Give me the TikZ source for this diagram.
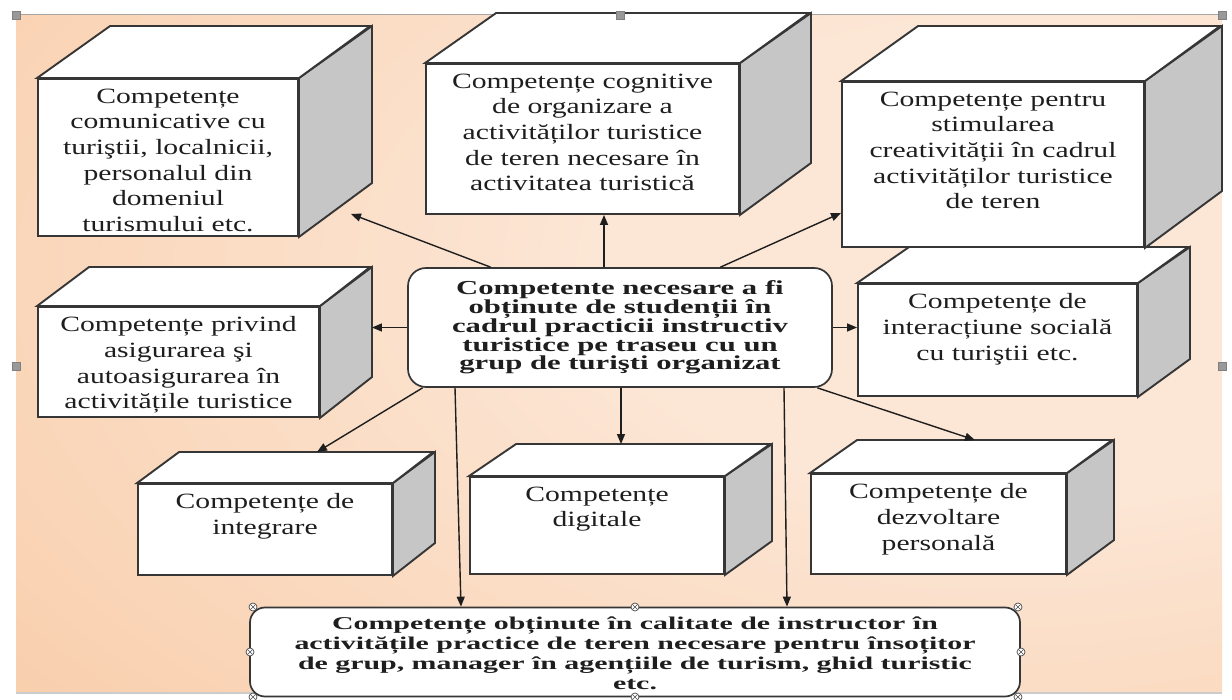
\documentclass[tikz,border=0pt]{standalone}
\usepackage{fontspec}
\setmainfont{Liberation Serif}
\newfontfamily\boxf{Liberation Serif}[FakeStretch=1.36]
\newfontfamily\bldf{Liberation Serif}[FakeStretch=1.55]
\newfontfamily\bldg{Liberation Serif}[FakeStretch=1.66]
\usetikzlibrary{arrows.meta,calc}
\definecolor{txt}{HTML}{1E1E1E}
\definecolor{edgec}{HTML}{363636}
\definecolor{sidec}{HTML}{C6C6C6}
\definecolor{bgA}{HTML}{FCE6D5}
\definecolor{bgB}{HTML}{F9CFAD}
\definecolor{bgC}{HTML}{F2A66C}
\pgfdeclareradialshading{bgrad}{\pgfpoint{20bp}{8bp}}{color(0bp)=(bgA); color(18bp)=(bgA); color(48bp)=(bgB); color(78bp)=(bgC); color(120bp)=(bgC)}
\newcommand{\cube}[8]{%
  \node[front, minimum width=#4pt, minimum height=#5pt] (#1) at (#2,#3) {};
  \draw[face, fill=sidec] (#1.north east) -- ++(#6,-#7) -- ++(0,#5) -- (#1.south east) -- cycle;
  \draw[face, fill=white] (#1.north west) -- ++(#6,-#7) -- ++(#4,0) -- (#1.north east) -- cycle;
  \node[boxtext, anchor=north] (#1t) at ($(#1.north)+(0,10.5)$) {#8};
}
\begin{document}
\begin{tikzpicture}[x=1pt, y=-1pt,
  front/.style={draw=edgec, line width=1.9pt, fill=white, inner sep=0pt, rectangle},
  face/.style={draw=edgec, line width=1.9pt, line join=miter},
  boxtext/.style={font=\boxf\fontsize{21.8}{25.7}\selectfont, align=center, inner sep=0pt, text=txt},
  rbox/.style={draw=edgec, line width=1.7pt, fill=white, rounded corners=18pt, inner sep=0pt},
  ctext/.style={font=\bldf\bfseries\fontsize{19.8}{18.4}\selectfont, align=center, text=txt},
  btext/.style={font=\bldg\bfseries\fontsize{18}{20}\selectfont, align=center, text=txt},
  arr/.style={draw=txt, line width=1.4pt, -{Triangle[length=10pt,width=8pt]}},
  handle/.style={fill=gray!80, draw=gray, line width=0.6pt}
]
\useasboundingbox (0,0) rectangle (1232,700);
\fill[white] (0,0) rectangle (1232,700);
\shade[shading=bgrad] (16,15) rectangle (1222,692);
\draw[gray!70, line width=1pt] (16,15) -- (1222,15);
\draw[gray!40, line width=1.5pt] (16,693) -- (1222,693);

% cubes
\cube{b6}{997.5}{340}{279}{112}{52}{36}{Competențe de\\interacțiune socială\\cu turiştii etc.}
\cube{b1}{168}{157.5}{260}{157}{73}{52}{Competențe\\comunicative cu\\turiştii, localnicii,\\personalul din\\domeniul\\turismului etc.}
\cube{b2}{582.5}{139}{313}{150}{71}{50}{Competențe cognitive\\de organizare a\\activităților turistice\\de teren necesare în\\activitatea turistică}
\cube{b3}{993}{164.5}{302}{165}{77}{55}{Competențe pentru\\stimularea\\creativității în cadrul\\activităților turistice\\de teren}
\cube{b4}{178.5}{362}{281}{110}{52}{39}{Competențe privind\\asigurarea şi\\autoasigurarea în\\activitățile turistice}
\cube{b7}{265}{529.5}{254}{91}{42}{31}{Competențe de\\integrare}
\cube{b8}{597}{525.5}{254}{97}{47}{32}{Competențe\\digitale}
\cube{b9}{938.5}{524}{255}{100}{47}{33}{Competențe de\\dezvoltare\\personală}

% central and bottom boxes
\node[rbox, minimum width=424pt, minimum height=119pt] (c) at (620,327.5) {};
\node[ctext] (ct) at (c.center) {Competente necesare a fi\\obținute de studenții în\\cadrul practicii instructiv\\turistice pe traseu cu un\\grup de turişti organizat};
\node[rbox, rounded corners=15pt, minimum width=770pt, minimum height=89pt] (B) at (635,652) {};
\node[btext] (Bt) at ($(B.center)+(0,1)$) {Competențe obținute în calitate de instructor în\\activitățile practice de teren necesare pentru însoțitor\\de grup, manager în agențiile de turism, ghid turistic\\etc.};

% connector end points
\coordinate (e1) at ($(b1.south east)+(52,-23)$);
\coordinate (e2) at ($(b2.south)+(21.5,0)$);
\coordinate (e3) at ($(b3.south west)+(0,-35)$);
\coordinate (e4) at ($(b4.east)+(52,0)$);
\coordinate (e7) at ($(b7.north)+(52,-31)$);
\coordinate (e8) at ($(b8.north)+(24,-32)$);
\coordinate (e9) at ($(b9.north)+(36.5,-33)$);
\coordinate (sL) at ($(c.south)+(-165,0)$);
\coordinate (sR) at ($(c.south)+(164,0)$);
\coordinate (eL) at ($(B.north)+(-174,0)$);
\coordinate (eR) at ($(B.north)+(152,0)$);

\draw[arr] (c.155.4) -- (e1);
\draw[arr] (c.north -| e2) -- (e2);
\draw[arr] (c.31.3) -- (e3);
\draw[arr] (c.west) -- (c.west -| e4);
\draw[arr] (c.east) -- (c.east -| b6.west);
\draw[arr] (c.197.1) -- (e7);
\draw[arr] (c.south -| e8) -- (e8);
\draw[arr] (c.-17.2) -- (e9);
\draw[arr] (sL) -- (eL);
\draw[arr] (sR) -- (eR);

% selection handles
\foreach \p in {(16,15),(620,15),(1222,15),(16,366),(1222,366)}
  \filldraw[handle] \p ++(-4,-4) rectangle ++(8,8);
\foreach \p in {(253,607),(635,607),(1018,607),(250,652),(1021,652),(253,697),(635,697),(1018,697)}{
  \draw[gray!60!black, line width=0.7pt, fill=white] \p circle (4);
  \draw[gray!60!black, line width=0.6pt] \p ++(-2.6,-2.6) -- ++(5.2,5.2) \p ++(-2.6,2.6) -- ++(5.2,-5.2);
}
\end{tikzpicture}
\end{document}
